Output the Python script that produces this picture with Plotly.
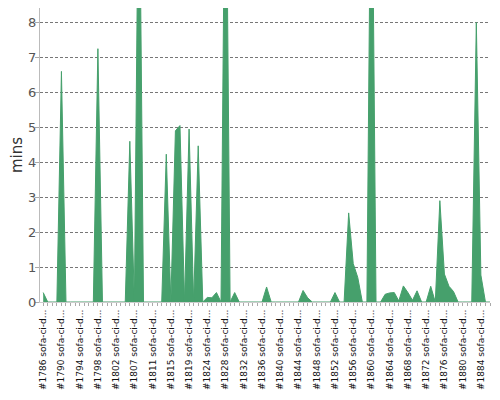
import plotly.graph_objects as go

# minutes per build, one value per build in order (builds #1786 .. #1886, two build numbers missing)
mins = [
    0.27, 0, 0, 0, 6.6, 0, 0, 0, 0, 0,
    0, 0, 7.25, 0, 0, 0, 0, 0, 0, 4.6,
    0, 14, 0, 0, 0, 0, 0, 4.23, 0, 4.9,
    5.05, 0, 4.95, 0, 4.47, 0, 0.13, 0.12, 0.27, 0,
    15, 0, 0.27, 0, 0, 0, 0, 0, 0, 0.43,
    0, 0, 0, 0, 0, 0, 0, 0.33, 0.12, 0,
    0, 0, 0, 0, 0.27, 0, 0, 2.55, 1.1, 0.7,
    0, 0, 15, 0, 0, 0.22, 0.26, 0.27, 0.03, 0.46,
    0.27, 0.05, 0.32, 0, 0, 0.45, 0, 2.9, 0.8, 0.45,
    0.3, 0, 0, 0, 0, 8.0, 0.77, 0, 0,
]

# every 4th build gets a label
tick_labels = [
    "#1786 sofa-ci-d...", "#1790 sofa-ci-d...", "#1794 sofa-ci-d...",
    "#1798 sofa-ci-d...", "#1802 sofa-ci-d...", "#1807 sofa-ci-d...",
    "#1811 sofa-ci-d...", "#1815 sofa-ci-d...", "#1819 sofa-ci-d...",
    "#1824 sofa-ci-d...", "#1828 sofa-ci-d...", "#1832 sofa-ci-d...",
    "#1836 sofa-ci-d...", "#1840 sofa-ci-d...", "#1844 sofa-ci-d...",
    "#1848 sofa-ci-d...", "#1852 sofa-ci-d...", "#1856 sofa-ci-d...",
    "#1860 sofa-ci-d...", "#1864 sofa-ci-d...", "#1868 sofa-ci-d...",
    "#1872 sofa-ci-d...", "#1876 sofa-ci-d...", "#1880 sofa-ci-d...",
    "#1884 sofa-ci-d...",
]

green = "#46a06c"
idx = list(range(len(mins)))

fig = go.Figure()
fig.add_trace(go.Scatter(
    x=idx, y=mins, mode="lines", fill="tozeroy",
    line=dict(color=green, width=1), fillcolor=green,
    hoverinfo="y",
))

# page body adds an 8px margin, so the figure is sized to fit the window
fig.update_layout(
    width=492, height=392,
    margin=dict(l=32, r=10, t=0, b=98),
    paper_bgcolor="white", plot_bgcolor="white",
    font=dict(family="DejaVu Sans", color="#333"),
    showlegend=False,
)
fig.update_xaxes(
    automargin=False,
    range=[-0.7, len(mins) - 1],
    tickmode="array", tickvals=idx[::4], ticktext=tick_labels,
    tickangle=-90, tickfont=dict(size=9, color="#111"),
    ticks="outside", ticklen=3, tickcolor="#aaa",
    minor=dict(ticks="outside", dtick=1, tick0=0, ticklen=3, tickcolor="#aaa"),
    showline=True, linecolor="#ccc", linewidth=1,
    showgrid=False, zeroline=False,
)
fig.update_yaxes(
    automargin=False,
    range=[0, 8.415], dtick=1,
    title=dict(text="mins", font=dict(size=15, color="#333"), standoff=12),
    tickfont=dict(size=13, color="#555"),
    ticks="outside", ticklen=4, tickcolor="#aaa", ticklabelstandoff=-4,
    showline=True, linecolor="#bbb", linewidth=1,
    showgrid=True, gridcolor="#777", griddash="3px,2px", gridwidth=1,
    zeroline=False,
)

fig.write_html("out.html")
